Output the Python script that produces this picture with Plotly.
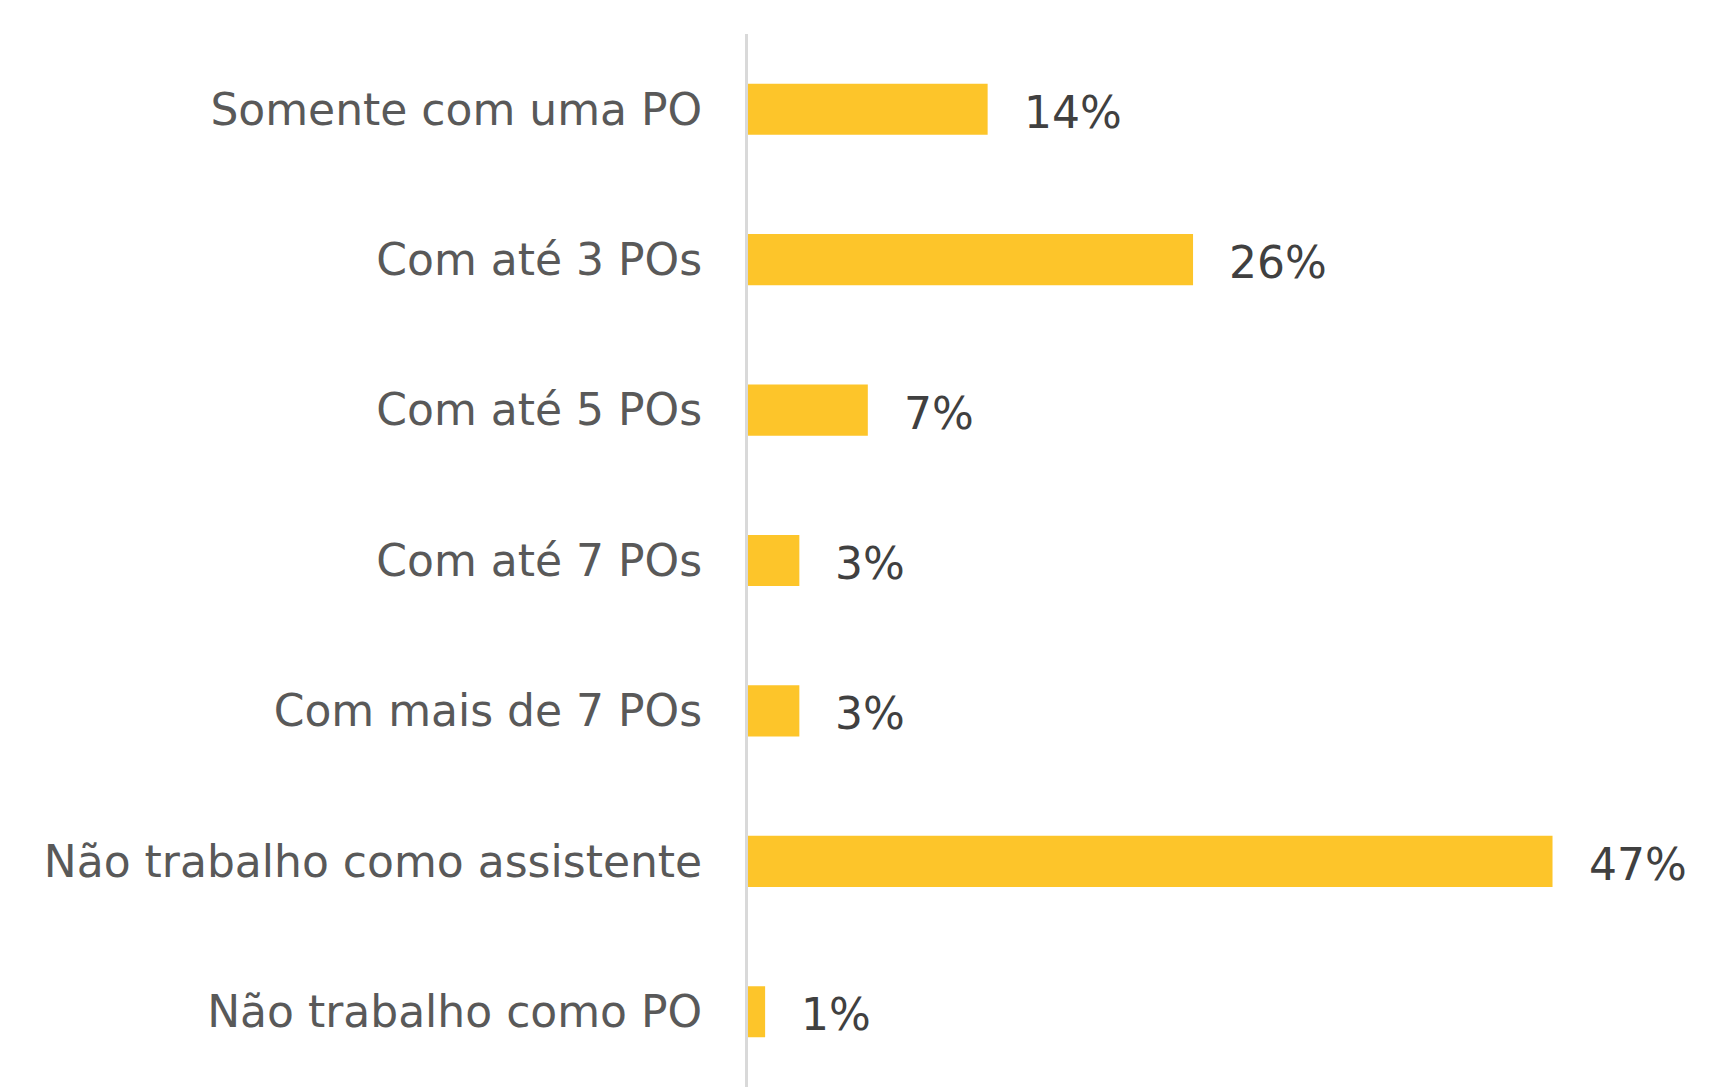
import plotly.graph_objects as go

# Survey answers and their shares (%)
categories = [
    "Somente com uma PO",
    "Com até 3 POs",
    "Com até 5 POs",
    "Com até 7 POs",
    "Com mais de 7 POs",
    "Não trabalho como assistente",
    "Não trabalho como PO",
]
values = [14, 26, 7, 3, 3, 47, 1]
value_labels = [f"{v}%" for v in values]

BAR_COLOR = "#FDC52A"
FONT = "DejaVu Sans"

fig = go.Figure(
    go.Bar(
        x=values,
        y=categories,
        orientation="h",
        marker=dict(color=BAR_COLOR, line=dict(width=0)),
        hoverinfo="skip",
    )
)

# Value labels to the right of each bar
for cat, val, lab in zip(categories, values, value_labels):
    fig.add_annotation(
        x=val,
        y=cat,
        text=lab,
        xanchor="left",
        yanchor="middle",
        xshift=34,
        yshift=-3,
        showarrow=False,
        font=dict(family=FONT, size=44, color="#404040"),
    )

fig.update_layout(
    width=1710,
    height=1091,
    margin=dict(l=748, r=0, t=34, b=4, autoexpand=False),
    paper_bgcolor="white",
    plot_bgcolor="white",
    bargap=0.66,
    showlegend=False,
    xaxis=dict(
        range=[0, 56.2],
        visible=False,
        showgrid=False,
        zeroline=False,
        fixedrange=True,
    ),
    yaxis=dict(
        autorange="reversed",
        showgrid=False,
        zeroline=False,
        showline=True,
        linecolor="#D9D9D9",
        linewidth=3,
        ticks="",
        ticklabelstandoff=34,
        tickfont=dict(family=FONT, size=44, color="#595959"),
        automargin=False,
        fixedrange=True,
    ),
)

fig.write_html("out.html")
